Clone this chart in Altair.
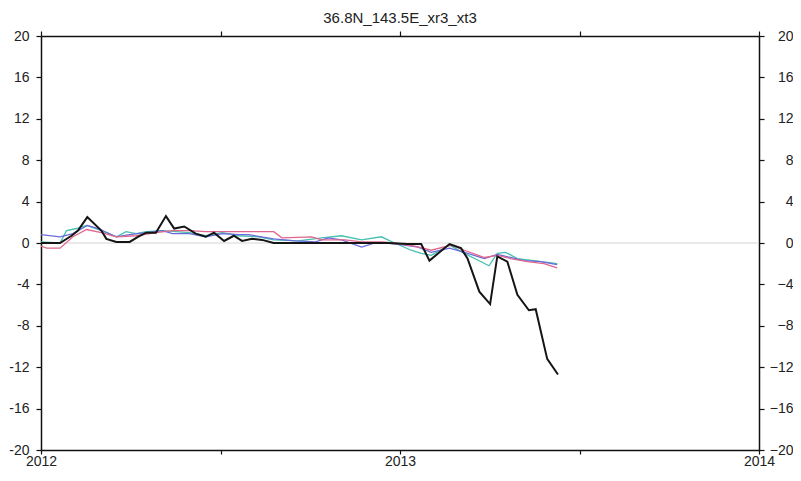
import altair as alt
import pandas as pd

TITLE = "36.8N_143.5E_xr3_xt3"

# decimal year / value pairs
black_t = [2012.000, 2012.053, 2012.085, 2012.103, 2012.129, 2012.168, 2012.182, 2012.210,
           2012.247, 2012.270, 2012.293, 2012.320, 2012.348, 2012.371, 2012.399, 2012.431,
           2012.459, 2012.482, 2012.510, 2012.537, 2012.560, 2012.588, 2012.616, 2012.648,
           2012.717, 2012.801, 2012.884, 2012.967, 2013.022, 2013.059, 2013.082, 2013.110,
           2013.138, 2013.170, 2013.188, 2013.221, 2013.251, 2013.271, 2013.299, 2013.327,
           2013.359, 2013.378, 2013.410, 2013.440]
black_v = [0.0, 0.0, 0.7, 1.2, 2.5, 1.2, 0.4, 0.1,
           0.1, 0.6, 1.0, 1.0, 2.6, 1.4, 1.6, 0.9,
           0.6, 1.0, 0.2, 0.7, 0.2, 0.4, 0.3, 0.0,
           0.0, 0.0, 0.0, 0.0, -0.1, -0.1, -1.7, -0.9,
           -0.1, -0.5, -1.5, -4.7, -5.9, -1.3, -1.8, -5.0,
           -6.5, -6.4, -11.2, -12.7]

blue_t = [2012.000, 2012.053, 2012.089, 2012.129, 2012.159, 2012.210, 2012.247, 2012.293,
          2012.339, 2012.366, 2012.413, 2012.459, 2012.505, 2012.551, 2012.579, 2012.648,
          2012.708, 2012.764, 2012.801, 2012.837, 2012.893, 2012.930, 2012.967, 2013.013,
          2013.050, 2013.087, 2013.138, 2013.179, 2013.235, 2013.271, 2013.308, 2013.345,
          2013.391, 2013.438]
blue_v = [0.8, 0.6, 0.9, 1.7, 1.4, 0.6, 0.8, 1.0,
          1.2, 0.9, 0.9, 0.6, 0.9, 0.8, 0.8, 0.4,
          0.2, 0.1, 0.5, 0.3, -0.4, 0.0, 0.0, -0.2,
          -0.4, -0.9, -0.5, -0.9, -1.5, -1.1, -1.4, -1.7,
          -1.8, -2.1]

teal_t = [2012.000, 2012.053, 2012.071, 2012.099, 2012.127, 2012.168, 2012.210, 2012.237,
          2012.265, 2012.293, 2012.339, 2012.413, 2012.459, 2012.505, 2012.551, 2012.607,
          2012.648, 2012.717, 2012.782, 2012.837, 2012.893, 2012.948, 2012.985, 2013.031,
          2013.059, 2013.087, 2013.138, 2013.179, 2013.248, 2013.271, 2013.294, 2013.327,
          2013.373, 2013.438]
teal_v = [0.1, 0.0, 1.2, 1.4, 1.7, 1.2, 0.6, 1.1,
          0.9, 1.1, 1.2, 1.0, 0.7, 1.0, 0.7, 0.6,
          0.3, 0.2, 0.5, 0.7, 0.3, 0.6, 0.0, -0.7,
          -1.0, -1.2, -0.2, -1.0, -2.2, -1.0, -0.9, -1.5,
          -1.7, -2.0]

pink_t = [2012.000, 2012.016, 2012.053, 2012.089, 2012.127, 2012.168, 2012.210, 2012.265,
          2012.320, 2012.366, 2012.413, 2012.459, 2012.505, 2012.551, 2012.648, 2012.671,
          2012.754, 2012.782, 2012.847, 2012.893, 2012.948, 2012.985, 2013.041, 2013.087,
          2013.142, 2013.179, 2013.235, 2013.271, 2013.308, 2013.355, 2013.401, 2013.438]
pink_v = [-0.3, -0.5, -0.5, 0.6, 1.3, 1.0, 0.6, 0.7,
          1.0, 1.2, 1.2, 1.1, 1.1, 1.1, 1.1, 0.5,
          0.6, 0.3, 0.3, 0.1, 0.1, 0.0, -0.3, -0.7,
          -0.2, -0.7, -1.4, -1.2, -1.5, -1.8, -2.0, -2.4]

series_names = ["teal", "blue", "pink"]
series_colors = ["#45c0b0", "#6b6bdc", "#e0668c"]

x_ticks = [2012, 2012.5, 2013, 2013.5, 2014]
y_ticks = list(range(-20, 21, 4))

rows = []
for name, ts, vs in [("teal", teal_t, teal_v), ("blue", blue_t, blue_v), ("pink", pink_t, pink_v)]:
    for t, v in zip(ts, vs):
        rows.append({"t": t, "v": v, "s": name})
colored = pd.DataFrame(rows)
black = pd.DataFrame({"t": black_t, "v": black_v})
zero = pd.DataFrame({"v": [0.0]})

FONT = "Liberation Sans"
xs = alt.Scale(domain=[2012, 2014], nice=False, zero=False)
ys = alt.Scale(domain=[-20, 20], nice=False, zero=False)

common = dict(grid=False, domainColor="#111111", domainWidth=1.5, tickColor="#111111",
              tickWidth=1.2, labelFont=FONT, labelFontSize=14,
              labelColor="#222222", title=None, labelFlush=False, labelOverlap=False)

x_bottom = alt.Axis(orient="bottom", values=x_ticks, tickSize=4, labelPadding=0,
                    labelExpr="datum.value % 1 === 0 ? format(datum.value, 'd') : ''", **common)
y_left = alt.Axis(orient="left", values=y_ticks, tickSize=5, labelPadding=7,
                  labelExpr="replace(format(datum.value, 'd'), '\u2212', '-')", **common)
x_top = alt.Axis(orient="top", values=x_ticks, tickSize=5, labels=False, **common)
y_right = alt.Axis(orient="right", values=y_ticks, tickSize=5, labelPadding=29,
                   labelAlign="right", format="d", **common)

zero_layer = alt.Chart(zero).mark_rule(color="#d4d4d4", strokeWidth=1).encode(
    y=alt.Y("v:Q", scale=ys, axis=None)
)

colored_layer = alt.Chart(colored).mark_line(strokeWidth=1.3, clip=True).encode(
    x=alt.X("t:Q", scale=xs, axis=x_bottom),
    y=alt.Y("v:Q", scale=ys, axis=y_left),
    color=alt.Color("s:N", scale=alt.Scale(domain=series_names, range=series_colors), legend=None),
)

black_layer = alt.Chart(black).mark_line(strokeWidth=2, color="#151515", clip=True).encode(
    x=alt.X("t:Q", scale=xs, axis=x_top),
    y=alt.Y("v:Q", scale=ys, axis=y_right),
)

chart = (
    alt.layer(zero_layer, colored_layer, black_layer)
    .resolve_axis(x="independent", y="independent")
    .properties(
        width=718,
        height=414,
        title=alt.TitleParams(TITLE, font=FONT, fontSize=15, fontWeight="normal",
                              color="#222222", offset=3),
        autosize=alt.AutoSizeParams(type="none"),
        padding={"left": 33, "top": 28, "right": 34, "bottom": 18},
    )
    .configure_view(stroke=None)
)

chart.save("out.html", embed_options={"renderer": "svg", "actions": False})
